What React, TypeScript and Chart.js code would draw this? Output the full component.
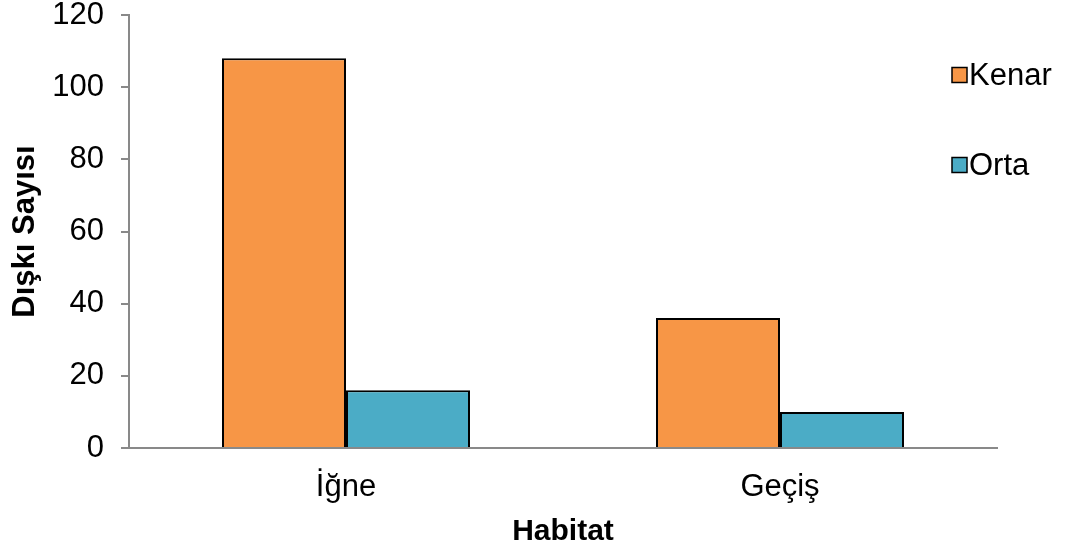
import React, { useEffect, useRef } from "react";
import { Chart, registerables } from "chart.js";

Chart.register(...registerables);

// Habitat categories and dropping counts per series
const categories = ["İğne", "Geçiş"];
const kenarValues = [108, 36];
const ortaValues = [16, 10];
const seriesNames = ["Kenar", "Orta"];
const seriesColors = ["#F79646", "#4BACC6"];
const yMin = 0;
const yMax = 120;
const yStep = 20;

const FONT = "'Liberation Sans', Arial, sans-serif";
const AXIS_GRAY = "#898989";
const TEXT_SIZE = 31;

// Legend drawn to the right of the plot, one entry per dataset
const sideLegend = {
  id: "sideLegend",
  afterDraw(chart: any) {
    const ctx = chart.ctx;
    const rows = [75, 165];
    ctx.save();
    chart.data.datasets.forEach((ds: any, i: number) => {
      const cy = rows[i];
      const size = 15;
      const x = 952;
      ctx.fillStyle = ds.backgroundColor;
      ctx.fillRect(x, cy - size / 2, size, size);
      ctx.lineWidth = 1.5;
      ctx.strokeStyle = "#000";
      ctx.strokeRect(x, cy - size / 2, size, size);
      ctx.fillStyle = "#000";
      ctx.font = `${TEXT_SIZE}px ${FONT}`;
      ctx.textBaseline = "middle";
      ctx.textAlign = "left";
      ctx.fillText(ds.label, x + size + 2, cy + 1);
    });
    ctx.restore();
  },
};

export default function App() {
  const canvasRef = useRef<HTMLCanvasElement | null>(null);

  useEffect(() => {
    if (!canvasRef.current) return;
    const chart = new Chart(canvasRef.current, {
      type: "bar",
      data: {
        labels: categories,
        datasets: [
          {
            label: seriesNames[0],
            data: kenarValues,
            backgroundColor: seriesColors[0],
            borderColor: "#000",
            borderWidth: 2,
            categoryPercentage: 2 / 3.5,
            barPercentage: 1,
          },
          {
            label: seriesNames[1],
            data: ortaValues,
            backgroundColor: seriesColors[1],
            borderColor: "#000",
            borderWidth: 2,
            categoryPercentage: 2 / 3.5,
            barPercentage: 1,
          },
        ],
      },
      options: {
        responsive: false,
        animation: false,
        layout: { padding: { left: 0, right: 72, top: 15, bottom: 0 } },
        plugins: {
          legend: { display: false },
          tooltip: { enabled: false },
        },
        scales: {
          x: {
            grid: { display: true, drawOnChartArea: false, drawTicks: false },
            border: { display: true, color: AXIS_GRAY, width: 2 },
            ticks: {
              color: "#000",
              font: { family: FONT, size: TEXT_SIZE },
              padding: 21,
            },
            title: {
              display: true,
              text: "Habitat",
              color: "#000",
              font: { family: FONT, size: 30, weight: "bold" },
              padding: { top: 0, bottom: 4 },
            },
            afterFit(scale: any) {
              scale.height = 106;
              scale.paddingLeft = 0;
              scale.paddingRight = 0;
            },
          },
          y: {
            min: yMin,
            max: yMax,
            ticks: {
              stepSize: yStep,
              color: "#000",
              font: { family: FONT, size: TEXT_SIZE, lineHeight: 1 },
              padding: 17,
            },
            grid: {
              display: true,
              drawOnChartArea: false,
              drawTicks: true,
              tickLength: 8,
              color: AXIS_GRAY,
              lineWidth: 2,
            },
            border: { display: true, color: AXIS_GRAY, width: 2 },
            title: {
              display: true,
              text: "Dışkı Sayısı",
              color: "#000",
              font: { family: FONT, size: 31, weight: "bold" },
              padding: { top: 7, bottom: 0 },
            },
            afterFit(scale: any) {
              scale.width = 129;
              scale.paddingTop = 0;
              scale.paddingBottom = 0;
            },
          },
        },
      },
      plugins: [sideLegend],
    });
    return () => chart.destroy();
  }, []);

  return (
    <div style={{ position: "fixed", left: 0, top: 0, width: 1069, height: 554, background: "#fff" }}>
      <canvas ref={canvasRef} width={1069} height={554} style={{ display: "block" }} />
    </div>
  );
}
